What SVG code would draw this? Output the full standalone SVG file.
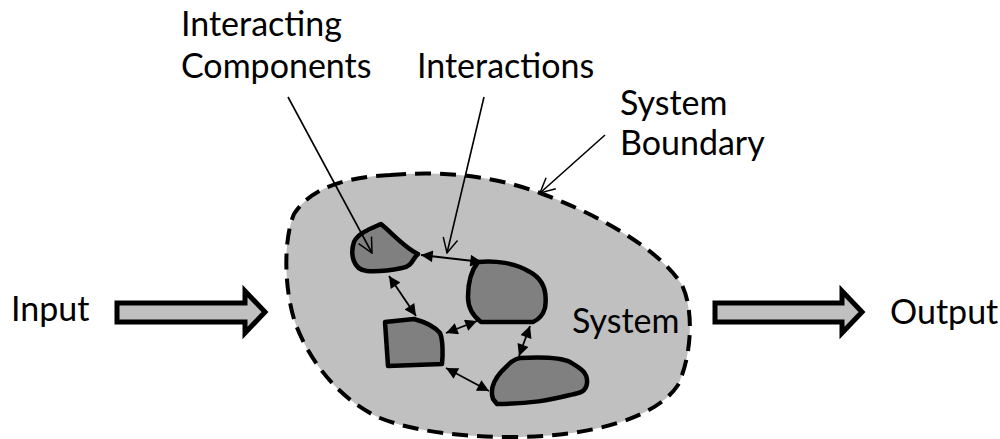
<svg xmlns="http://www.w3.org/2000/svg" width="1000" height="439" viewBox="0 0 1000 439">
  <style>
    .label { font-family: "Lato", "Liberation Sans", sans-serif; font-size: 34px; fill: #000; }
    .boundary { fill: #c0c0c0; stroke: #000; stroke-width: 4; stroke-dasharray: 16 9; }
    .comp { fill: #808080; stroke: #000; stroke-width: 4.5; stroke-linejoin: round; }
    .block { fill: #c0c0c0; stroke: #000; stroke-width: 5; stroke-linejoin: miter; }
    .link { fill: none; stroke: #000; stroke-width: 1.8; marker-start: url(#tri); marker-end: url(#tri); }
    .leader { fill: none; stroke: #000; stroke-width: 1.6; marker-end: url(#vee); }
  </style>
  <defs>
    <marker id="tri" viewBox="0 0 10 10" refX="10" refY="5" markerWidth="7.5" markerHeight="6.5" orient="auto-start-reverse" markerUnits="strokeWidth">
      <path d="M0,0 L10,5 L0,10 Z" fill="#000"/>
    </marker>
    <marker id="vee" viewBox="0 0 12 12" refX="11" refY="6" markerWidth="11" markerHeight="11" orient="auto" markerUnits="strokeWidth">
      <path d="M1,1 L11,6 L1,11" fill="none" stroke="#000" stroke-width="1"/>
    </marker>
  </defs>

  <!-- system boundary -->
  <g id="system">
    <path class="boundary" d="M390,175 C450,170 500,178 540,193 C600,215 660,250 682,285 C694,310 692,355 678,385 C655,420 585,437 513,437 C460,437 412,431 380,418 C340,400 310,362 296,325 C284,292 283,240 294,214 C312,186 350,177 390,175 Z"/>
    <text class="label" x="572" y="333">System</text>
  </g>

  <!-- components -->
  <g id="component-a">
    <path class="comp" d="M367,271 C353,270 350,254 354,242 C358,233 372,228 381,224 C392,233 405,248 418,254 C412,259 413,266 402,268 C392,270 380,272 367,271 Z"/>
  </g>
  <g id="component-b">
    <path class="comp" d="M478,262 C495,260 515,263 530,272 C545,280 547,295 545,308 C543,315 540,319 533,322 L481,322 C473,316 468,308 468,297 C468,285 470,272 478,262 Z"/>
  </g>
  <g id="component-c">
    <path class="comp" d="M385,322 L414,319 C425,322 434,326 440,333 C443,340 443,355 442,364 L388,366 Z"/>
  </g>
  <g id="component-d">
    <path class="comp" d="M493,399 C490,390 494,380 501,372 C508,365 513,359 520,358 C540,357 560,357 570,362 C580,368 588,372 587,383 C586,392 580,393 570,395 C550,400 530,404 497,404 Z"/>
  </g>

  <!-- interactions and leader lines -->
  <g id="connectors">
    <line class="link" x1="421" y1="255" x2="482" y2="262"/>
    <line class="link" x1="389" y1="276" x2="416" y2="316"/>
    <line class="link" x1="446" y1="333" x2="477" y2="321"/>
    <line class="link" x1="530" y1="326" x2="519" y2="356"/>
    <line class="link" x1="446" y1="368" x2="489" y2="391"/>
    <line class="leader" x1="288" y1="97" x2="372" y2="253"/>
    <line class="leader" x1="484" y1="97" x2="447" y2="253"/>
    <line class="leader" x1="605" y1="135" x2="540" y2="193"/>
  </g>

  <!-- input / output block arrows -->
  <g id="input">
    <path class="block" d="M117,303 L245,303 L245,291 L265,312 L245,333 L245,322 L117,322 Z"/>
    <text class="label" x="11" y="321">Input</text>
  </g>
  <g id="output">
    <path class="block" d="M715,303 L842,303 L842,291 L862,312 L842,333 L842,322 L715,322 Z"/>
    <text class="label" x="890" y="324">Output</text>
  </g>

  <!-- annotations -->
  <g id="labels">
    <text class="label" x="181" y="36">Interacting</text>
    <text class="label" x="181" y="78">Components</text>
    <text class="label" x="417" y="78">Interactions</text>
    <text class="label" x="620" y="115">System</text>
    <text class="label" x="620" y="155">Boundary</text>
  </g>
</svg>
